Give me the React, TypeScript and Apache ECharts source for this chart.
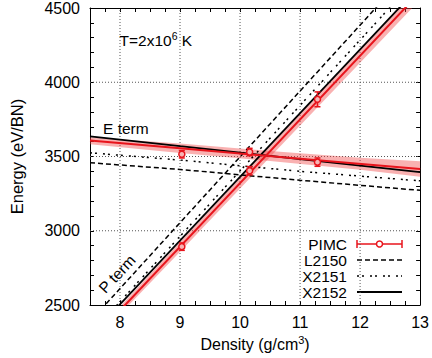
import React, { useEffect, useRef } from "react";
import * as echarts from "echarts";

// Axis ranges and ticks
const X_MIN = 7.5;
const X_MAX = 13;
const Y_MIN = 2500;
const Y_MAX = 4500;
const xGrid = [8, 9, 10, 11, 12];
const yGrid = [3000, 3500, 4000];

// PIMC data points with error bars
const pimcDensity = [9.03, 10.16, 11.29];
const pimcE = [3515, 3530, 3462];
const pimcEErr = [25, 25, 28];
const pimcP = [2893, 3404, 3885];
const pimcPErr = [25, 28, 50];

// E term curves
const eX = [7.5, 9, 11, 13];
const eL2150 = [3458, 3413, 3340, 3272];
const eX2151 = [3525, 3476, 3400, 3336];
const eX2152 = [3636, 3570, 3483, 3395];
const eFit = [3607, 3555, 3485, 3416];

// P term curves
const pX = [7.5, 13];
const pL2150 = [2389, 4828];
const pX2151 = [2302, 4725];
const pX2152 = [2290, 4650];
const pFit = [2249, 4607];

// Fit uncertainty bands
const bandX = [7.5, 9, 10.5, 12, 13];
const eBandUpper = [3630, 3587, 3537, 3492, 3468];
const eBandLower = [3583, 3523, 3469, 3410, 3364];
const pBandUpper = [2272, 2925, 3573, 4224, 4658];
const pBandLower = [2226, 2859, 3497, 4132, 4556];

const RED = "#e8141c";
const BAND = "rgba(240,70,70,0.42)";
const FONT = "Liberation Sans, Arial, Helvetica, sans-serif";

const pairs = (xs: number[], ys: number[]) => xs.map((x, i) => [x, ys[i]]);

function lineSeries(name: string, xs: number[], ys: number[], color: string, width: number, dash: any) {
  return {
    type: "line",
    name,
    data: pairs(xs, ys),
    showSymbol: false,
    symbol: "none",
    clip: true,
    z: 4,
    lineStyle: { color, width, type: dash },
  };
}

function bandSeries(upper: number[], lower: number[]) {
  return {
    type: "custom",
    clip: true,
    z: 2,
    data: [[X_MIN, Y_MIN]],
    encode: { x: 0, y: 1 },
    renderItem: (params: any, api: any) => {
      const pts: number[][] = [];
      bandX.forEach((x, i) => pts.push(api.coord([x, upper[i]])));
      for (let i = bandX.length - 1; i >= 0; i--) pts.push(api.coord([bandX[i], lower[i]]));
      return {
        type: "polygon",
        shape: { points: pts },
        style: { fill: BAND, stroke: "none" },
      };
    },
  };
}

function errorSeries(xs: number[], ys: number[], errs: number[]) {
  return {
    type: "custom",
    z: 6,
    data: xs.map((x, i) => [x, ys[i], errs[i]]),
    encode: { x: 0, y: 1 },
    renderItem: (params: any, api: any) => {
      const x = api.value(0);
      const y = api.value(1);
      const e = api.value(2);
      const c = api.coord([x, y]);
      const t = api.coord([x, y + e]);
      const b = api.coord([x, y - e]);
      const cap = 3;
      const st = { stroke: RED, lineWidth: 1.5 };
      return {
        type: "group",
        children: [
          { type: "line", shape: { x1: c[0], y1: t[1], x2: c[0], y2: b[1] }, style: st },
          { type: "line", shape: { x1: c[0] - cap, y1: t[1], x2: c[0] + cap, y2: t[1] }, style: st },
          { type: "line", shape: { x1: c[0] - cap, y1: b[1], x2: c[0] + cap, y2: b[1] }, style: st },
          { type: "circle", shape: { cx: c[0], cy: c[1], r: 3 }, style: { fill: "#f7b5b5", stroke: RED, lineWidth: 1.5 } },
        ],
      };
    },
  };
}

function gridSeries() {
  const segs: number[][] = [];
  xGrid.forEach((v) => segs.push([v, Y_MIN, v, Y_MAX]));
  yGrid.forEach((v) => segs.push([X_MIN, v, X_MAX, v]));
  return {
    type: "custom",
    z: 1,
    silent: true,
    data: segs,
    encode: { x: 0, y: 1 },
    renderItem: (params: any, api: any) => {
      const a = api.coord([api.value(0), api.value(1)]);
      const b = api.coord([api.value(2), api.value(3)]);
      return {
        type: "line",
        shape: { x1: a[0], y1: a[1], x2: b[0], y2: b[1] },
        style: { stroke: "#555", lineWidth: 1, lineDash: [1, 2] },
      };
    },
  };
}

const axisCommon = {
  axisLine: { show: true, lineStyle: { color: "#000", width: 1 } },
  axisTick: { show: true, inside: true, length: 4, lineStyle: { color: "#000" } },
  splitLine: { show: false },
};

const legendRows = [
  { name: "PIMC", y: 244 },
  { name: "L2150", y: 260 },
  { name: "X2151", y: 276 },
  { name: "X2152", y: 292 },
];

function buildOption() {
  const lx0 = 357;
  const lx1 = 402;
  const textStyle = { fontFamily: FONT, fontSize: 15.5, fill: "#000" };
  const legendGraphics: any[] = [];
  legendRows.forEach((r) => {
    legendGraphics.push({
      type: "text",
      x: 347,
      y: r.y,
      style: { ...textStyle, text: r.name, align: "right", verticalAlign: "middle" },
    });
  });
  // legend samples
  legendGraphics.push(
    { type: "line", shape: { x1: lx0, y1: 244, x2: lx1, y2: 244 }, style: { stroke: RED, lineWidth: 1.5 } },
    { type: "line", shape: { x1: lx0, y1: 240, x2: lx0, y2: 248 }, style: { stroke: RED, lineWidth: 1.5 } },
    { type: "line", shape: { x1: lx1, y1: 240, x2: lx1, y2: 248 }, style: { stroke: RED, lineWidth: 1.5 } },
    { type: "circle", shape: { cx: 379.5, cy: 244, r: 3 }, style: { fill: "#fff", stroke: RED, lineWidth: 1.5 } },
    { type: "line", shape: { x1: lx0, y1: 260, x2: lx1, y2: 260 }, style: { stroke: "#000", lineWidth: 1.5, lineDash: [5, 3] } },
    { type: "line", shape: { x1: lx0, y1: 276, x2: lx1, y2: 276 }, style: { stroke: "#000", lineWidth: 1.5, lineDash: [2, 3, 2, 6] } },
    { type: "line", shape: { x1: lx0, y1: 292, x2: lx1, y2: 292 }, style: { stroke: "#000", lineWidth: 1.8 } }
  );

  return {
    animation: false,
    backgroundColor: "#fff",
    textStyle: { fontFamily: FONT },
    grid: { left: 89, right: 11, top: 7, bottom: 53, containLabel: false },
    xAxis: [
      {
        ...axisCommon,
        type: "value",
        min: X_MIN,
        max: X_MAX,
        interval: 0.25,
        name: "Density (g/cm{sup|3})",
        nameLocation: "middle",
        nameGap: 29,
        nameTextStyle: {
          fontFamily: FONT,
          fontSize: 16,
          color: "#000",
          rich: { sup: { fontSize: 11, verticalAlign: "top", padding: [0, 0, 8, 0], fontFamily: FONT, color: "#000" } },
        },
        axisLabel: {
          interval: 0,
          margin: 9,
          fontFamily: FONT,
          fontSize: 16,
          color: "#000",
          formatter: (v: number) => (Math.abs(v - Math.round(v)) < 1e-6 ? String(Math.round(v)) : ""),
        },
      },
      {
        ...axisCommon,
        type: "value",
        position: "top",
        min: X_MIN,
        max: X_MAX,
        interval: 0.25,
        axisLabel: { show: false },
      },
    ],
    yAxis: [
      {
        ...axisCommon,
        type: "value",
        min: Y_MIN,
        max: Y_MAX,
        interval: 100,
        name: "Energy (eV/BN)",
        nameLocation: "middle",
        nameGap: 65,
        nameTextStyle: { fontFamily: FONT, fontSize: 16.5, color: "#000" },
        axisLabel: {
          interval: 0,
          margin: 10,
          fontFamily: FONT,
          fontSize: 16,
          color: "#000",
          formatter: (v: number) => (Math.round(v) % 500 === 0 ? String(Math.round(v)) : ""),
        },
      },
      {
        ...axisCommon,
        type: "value",
        position: "right",
        min: Y_MIN,
        max: Y_MAX,
        interval: 100,
        axisLabel: { show: false },
      },
    ],
    graphic: [
      {
        type: "text",
        x: 119.5,
        y: 40,
        style: {
          text: "T=2x10{sup|6} K",
          fontFamily: FONT,
          fontSize: 15.5,
          fill: "#000",
          verticalAlign: "middle",
          rich: { sup: { fontSize: 10.5, padding: [0, 0, 9, 0], fontFamily: FONT, fill: "#000" } },
        },
      },
      {
        type: "text",
        x: 103,
        y: 128.5,
        style: { text: "E term", fontFamily: FONT, fontSize: 15.5, fill: "#000", verticalAlign: "middle" },
      },
      {
        type: "text",
        x: 117,
        y: 274,
        rotation: (47 * Math.PI) / 180,
        style: { text: "P term", fontFamily: FONT, fontSize: 15.5, fill: "#000", align: "center", verticalAlign: "middle" },
      },
      ...legendGraphics,
    ],
    series: [
      gridSeries(),
      bandSeries(eBandUpper, eBandLower),
      bandSeries(pBandUpper, pBandLower),
      lineSeries("L2150 E", eX, eL2150, "#000", 1.5, [5, 3]),
      lineSeries("X2151 E", eX, eX2151, "#000", 1.5, [2, 3, 2, 6]),
      lineSeries("X2152 E", eX, eX2152, "#000", 1.8, "solid"),
      lineSeries("L2150 P", pX, pL2150, "#000", 1.5, [5, 3]),
      lineSeries("X2151 P", pX, pX2151, "#000", 1.5, [2, 3, 2, 6]),
      lineSeries("X2152 P", pX, pX2152, "#000", 1.8, "solid"),
      lineSeries("Fit E", eX, eFit, RED, 2, "solid"),
      lineSeries("Fit P", pX, pFit, RED, 2, "solid"),
      errorSeries(pimcDensity, pimcE, pimcEErr),
      errorSeries(pimcDensity, pimcP, pimcPErr),
    ],
  };
}

export default function App() {
  const ref = useRef<HTMLDivElement>(null);
  useEffect(() => {
    if (!ref.current) return;
    const chart = echarts.init(ref.current, null, { renderer: "svg" });
    chart.setOption(buildOption() as any);
    return () => chart.dispose();
  }, []);
  return (
    <div
      ref={ref}
      style={{ width: 432, height: 358, position: "absolute", left: 0, top: 0, background: "#fff" }}
    />
  );
}
